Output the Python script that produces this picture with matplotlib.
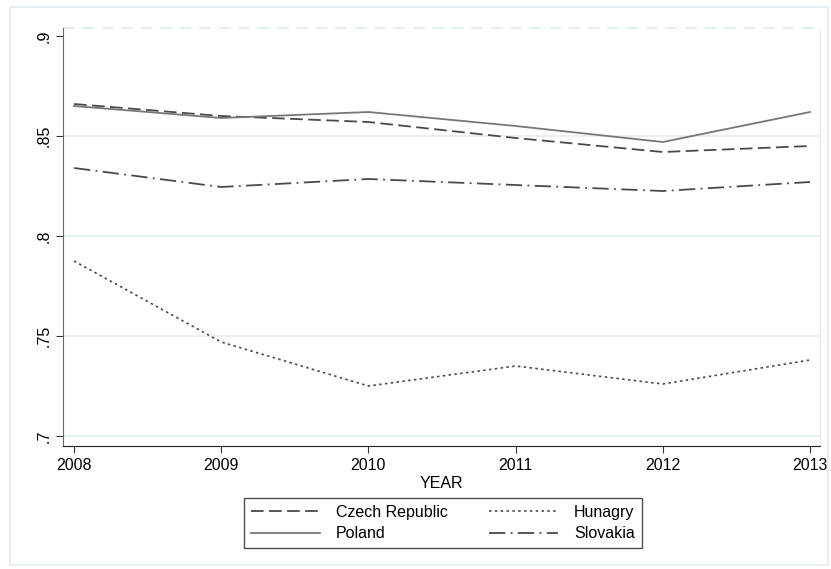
import matplotlib
matplotlib.use("Agg")
import matplotlib.pyplot as plt
from matplotlib.patches import Rectangle

plt.rcParams["font.family"] = ["Liberation Sans", "DejaVu Sans"]

years = [2008, 2009, 2010, 2011, 2012, 2013]
czech = [0.866, 0.860, 0.857, 0.849, 0.842, 0.845]
poland = [0.865, 0.859, 0.862, 0.855, 0.847, 0.862]
hungary = [0.7875, 0.747, 0.725, 0.735, 0.726, 0.738]
slovakia = [0.834, 0.8245, 0.8285, 0.8255, 0.8225, 0.827]
yticks = [0.7, 0.75, 0.8, 0.85, 0.9]
ytick_labels = [".7", ".75", ".8", ".85", ".9"]

fig = plt.figure(figsize=(8.31, 5.69), dpi=100)
# light outer frame
fig.patches.append(Rectangle((10 / 831, 4 / 569), 818 / 831, 558 / 569,
                             transform=fig.transFigure, fill=False,
                             edgecolor="#e4ecf0", lw=1.2))
ax = fig.add_axes([63 / 831, 1 - 446 / 569, 757 / 831, 418 / 569])

dark = "#4a4a4a"
l_cz, = ax.plot(years, czech, color=dark, lw=1.3, dashes=(7, 3), label="Czech Republic")
l_hu, = ax.plot(years, hungary, color=dark, lw=1.2, dashes=(1.5, 2), label="Hunagry")
l_pl, = ax.plot(years, poland, color="#777777", lw=1.3, label="Poland")
l_sk, = ax.plot(years, slovakia, color=dark, lw=1.3, dashes=(9, 3, 1, 3), label="Slovakia")

ylo, yhi = 0.695, 0.904
ax.set_xlim(2007.925, 2013.068)
ax.set_ylim(ylo, yhi)
ax.set_xticks(years)
ax.set_yticks(yticks)
ax.set_yticklabels(ytick_labels, rotation=90, va="center")
ax.tick_params(labelsize=11.5, length=5, color="#333333")
ax.set_xlabel("YEAR", fontsize=11.5, labelpad=2)

for y in yticks[:-1]:
    ax.axhline(y, color="#e6edf0", lw=1.2, zorder=0)
ax.axhline(yhi, color="#e6edf0", lw=1.4, dashes=(6, 4), zorder=0, clip_on=False)

ax.spines["top"].set_visible(False)
ax.spines["right"].set_color("#e6edf0")
ax.spines["left"].set_color("#666666")
ax.spines["bottom"].set_color("#222222")

# column-wise fill: Czech/Poland in the first column, Hungary/Slovakia in the second
leg = fig.legend([l_cz, l_pl, l_hu, l_sk],
                 ["Czech Republic", "Poland", "Hunagry", "Slovakia"],
                 ncol=2, loc="center",
                 bbox_to_anchor=(443 / 831, 1 - 523 / 569), fontsize=11.5,
                 frameon=True, fancybox=False, edgecolor="#222222",
                 handlelength=4.3, handletextpad=1.0, columnspacing=2.6,
                 borderpad=0.45, labelspacing=0.4)
leg.get_frame().set_linewidth(1.0)

fig.savefig("out.png", dpi=100)
